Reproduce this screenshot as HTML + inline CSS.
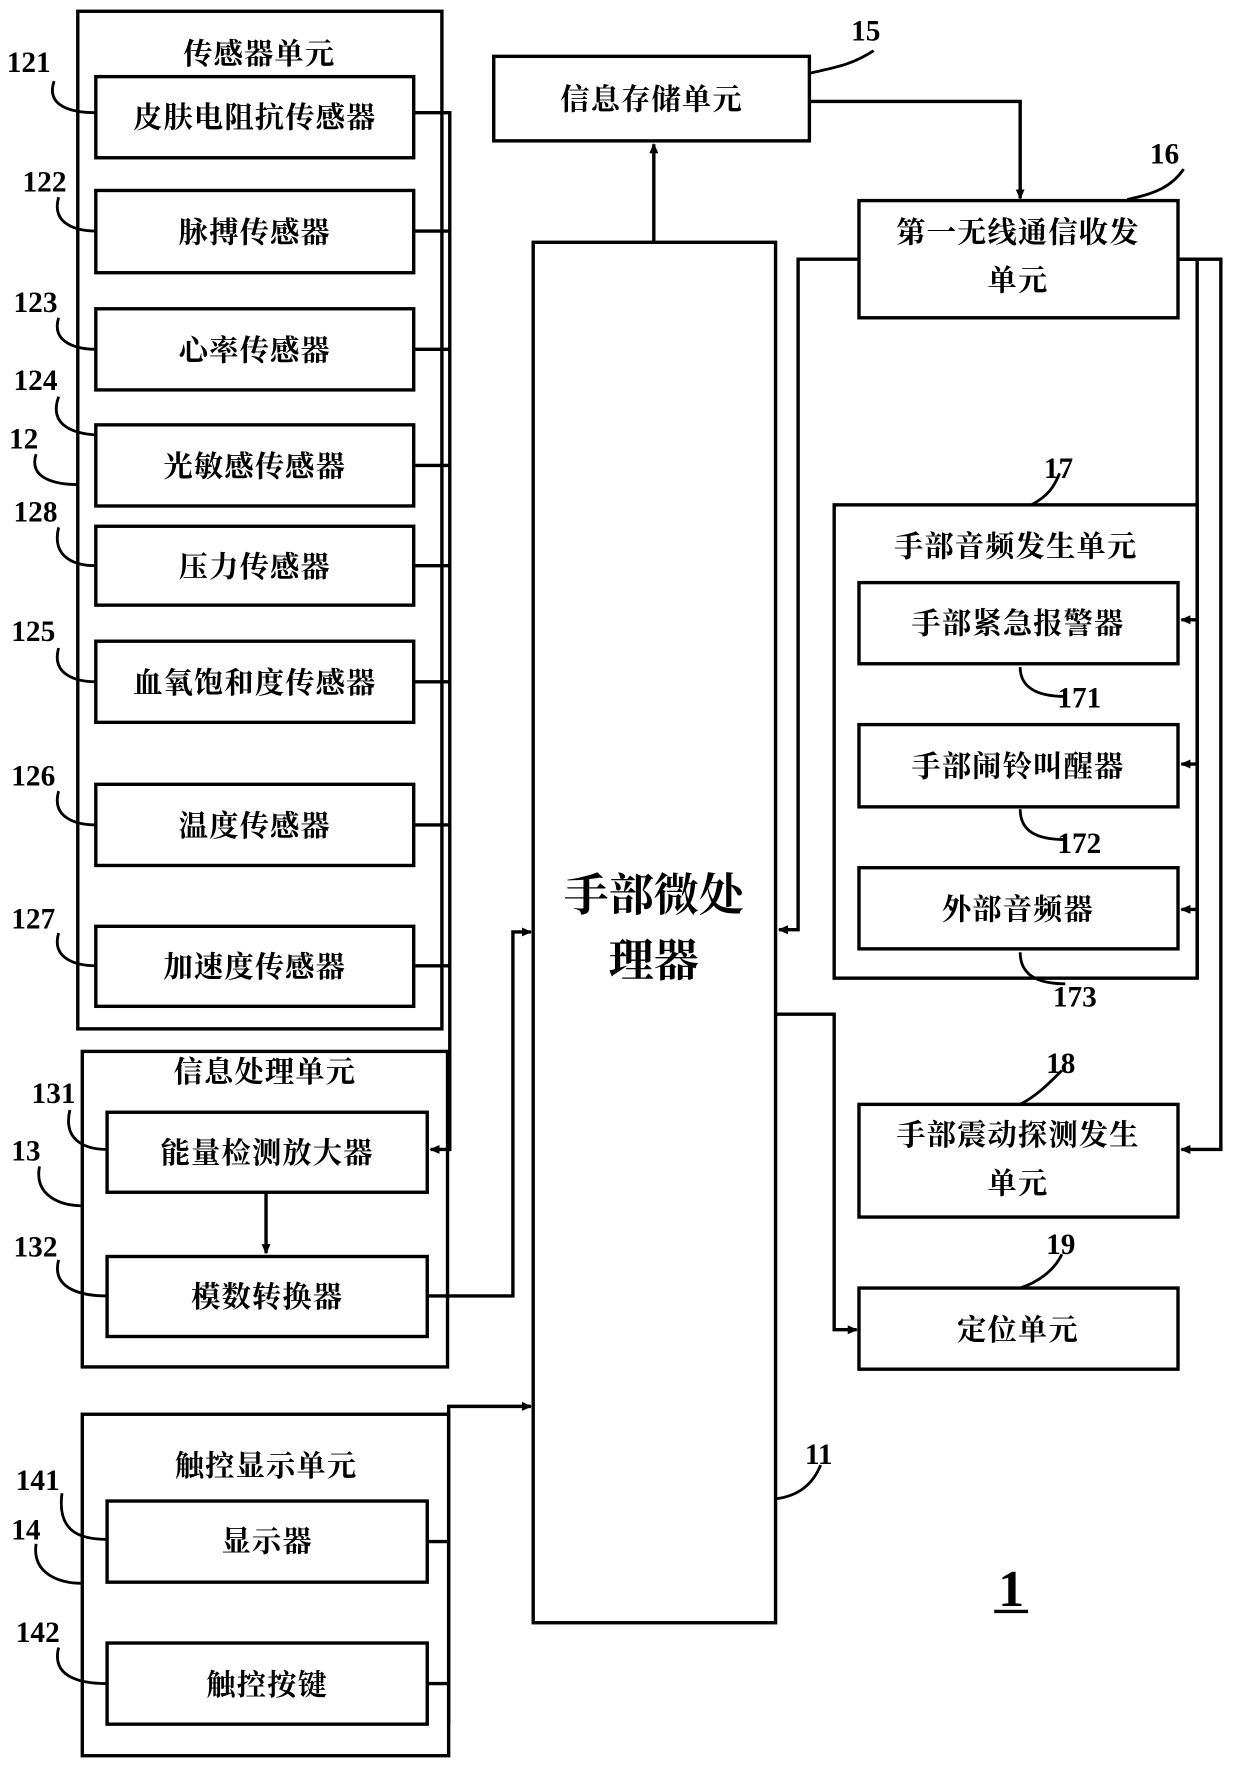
<!DOCTYPE html>
<html><head><meta charset="utf-8"><style>
html,body{margin:0;padding:0;background:#fff;}
svg{display:block;}
text{font-family:"Liberation Serif","Noto Serif CJK SC",serif;font-weight:700;fill:#000;}
</style></head><body>
<svg width="1240" height="1776" viewBox="0 0 1100 1576" preserveAspectRatio="none" xmlns="http://www.w3.org/2000/svg">
<defs><marker id="a" markerWidth="10" markerHeight="10" refX="8" refY="5" orient="auto" markerUnits="userSpaceOnUse"><path d="M0,1 L9,5 L0,9 z" fill="#000"/></marker></defs>
<g fill="none" stroke="#000" stroke-width="3">
<rect x="69" y="10" width="323" height="903"/>
<rect x="85" y="68" width="282" height="72"/>
<rect x="85" y="169" width="282" height="73"/>
<rect x="85" y="274" width="282" height="72"/>
<rect x="85" y="377" width="282" height="72"/>
<rect x="85" y="467" width="282" height="70"/>
<rect x="85" y="569" width="282" height="72"/>
<rect x="85" y="696" width="282" height="72"/>
<rect x="85" y="822" width="282" height="71"/>
<path d="M367,100 H399 V1020 H382" marker-end="url(#a)"/>
<path d="M367,205 H399 M367,310 H399 M367,413 H399 M367,502 H399 M367,605 H399 M367,732 H399 M367,857 H399"/>
<rect x="73" y="933" width="324" height="280"/>
<rect x="95" y="987" width="284" height="71"/>
<rect x="95" y="1115" width="284" height="71"/>
<path d="M236,1058 V1112" marker-end="url(#a)"/>
<path d="M379,1150 H455 V827 H471" marker-end="url(#a)"/>
<rect x="73" y="1255" width="325" height="303"/>
<rect x="95" y="1332" width="284" height="72"/>
<rect x="95" y="1458" width="284" height="72"/>
<path d="M379,1368 H398 M379,1494 H398 M398,1530 V1248 H471" marker-end="url(#a)"/>
<rect x="473" y="215" width="215" height="1225"/>
<path d="M580,215 V128" marker-end="url(#a)"/>
<rect x="438" y="50" width="280" height="75"/>
<path d="M718,90 H905 V176" marker-end="url(#a)"/>
<rect x="762" y="178" width="283" height="104"/>
<path d="M762,230 H708 V825 H691" marker-end="url(#a)"/>
<path d="M1045,230 H1083 V1020 H1048" marker-end="url(#a)"/>
<path d="M1045,230 H1062 V868"/>
<path d="M1062,550 H1048" marker-end="url(#a)"/>
<path d="M1062,678 H1048" marker-end="url(#a)"/>
<path d="M1062,807 H1048" marker-end="url(#a)"/>
<rect x="740" y="448" width="322" height="420"/>
<rect x="762" y="517" width="283" height="72"/>
<rect x="762" y="643" width="283" height="73"/>
<rect x="762" y="770" width="283" height="72"/>
<rect x="762" y="980" width="283" height="100"/>
<rect x="762" y="1143" width="283" height="72"/>
<path d="M688,900 H740 V1180 H760" marker-end="url(#a)"/>
<g stroke-width="2.5">
<path d="M48,72 C40,95 65,100 85,100"/>
<path d="M52,175 C45,200 70,205 85,205"/>
<path d="M52,282 C45,305 70,310 85,310"/>
<path d="M52,352 C42,380 70,385 85,386"/>
<path d="M32,403 C25,425 50,430 69,430"/>
<path d="M52,468 C45,497 70,502 85,502"/>
<path d="M52,575 C45,600 70,605 85,605"/>
<path d="M52,702 C45,727 70,732 85,732"/>
<path d="M52,828 C45,852 70,857 85,857"/>
<path d="M62,985 C55,1015 80,1020 95,1020"/>
<path d="M35,1035 C30,1062 55,1070 73,1070"/>
<path d="M52,1118 C45,1145 75,1150 95,1150"/>
<path d="M55,1325 C50,1362 75,1366 95,1366"/>
<path d="M32,1370 C28,1398 55,1405 73,1405"/>
<path d="M52,1462 C45,1490 75,1494 95,1494"/>
<path d="M718,65 C740,60 755,58 775,45"/>
<path d="M1000,177 C1025,172 1040,165 1050,150"/>
<path d="M915,448 C930,440 935,432 940,420"/>
<path d="M905,592 C905,610 920,618 945,618"/>
<path d="M905,718 C905,738 920,745 945,745"/>
<path d="M905,845 C905,865 920,873 945,873"/>
<path d="M905,980 C920,972 930,962 942,950"/>
<path d="M905,1143 C920,1138 935,1128 942,1113"/>
<path d="M688,1330 C705,1328 720,1320 728,1300"/>
</g>
<path d="M882,1430 H912" stroke-width="3"/>
</g>
<g font-size="26" text-anchor="middle" letter-spacing="1">
<text x="230" y="57">传感器单元</text>
<text x="226" y="113">皮肤电阻抗传感器</text>
<text x="226" y="215">脉搏传感器</text>
<text x="226" y="320">心率传感器</text>
<text x="226" y="423">光敏感传感器</text>
<text x="226" y="512">压力传感器</text>
<text x="226" y="615">血氧饱和度传感器</text>
<text x="226" y="742">温度传感器</text>
<text x="226" y="867">加速度传感器</text>
<text x="235" y="960">信息处理单元</text>
<text x="237" y="1032">能量检测放大器</text>
<text x="237" y="1160">模数转换器</text>
<text x="236" y="1310">触控显示单元</text>
<text x="237" y="1377">显示器</text>
<text x="237" y="1504">触控按键</text>
<text x="578" y="97">信息存储单元</text>
<text x="903" y="215">第一无线通信收发</text>
<text x="903" y="258">单元</text>
<text x="901" y="494">手部音频发生单元</text>
<text x="903" y="562">手部紧急报警器</text>
<text x="903" y="689">手部闹铃叫醒器</text>
<text x="903" y="816">外部音频器</text>
<text x="903" y="1016">手部震动探测发生</text>
<text x="903" y="1059">单元</text>
<text x="903" y="1189">定位单元</text>
</g>
<g font-size="40" text-anchor="middle">
<text x="580" y="808">手部微处</text>
<text x="580" y="866">理器</text>
</g>
<g font-size="26">
<text x="6" y="64">121</text>
<text x="20" y="170">122</text>
<text x="12" y="277">123</text>
<text x="12" y="346">124</text>
<text x="8" y="398">12</text>
<text x="12" y="463">128</text>
<text x="10" y="569">125</text>
<text x="10" y="697">126</text>
<text x="10" y="824">127</text>
<text x="28" y="979">131</text>
<text x="10" y="1030">13</text>
<text x="12" y="1115">132</text>
<text x="14" y="1322">141</text>
<text x="10" y="1366">14</text>
<text x="14" y="1457">142</text>
<text x="755" y="36">15</text>
<text x="1020" y="145">16</text>
<text x="926" y="424">17</text>
<text x="938" y="628">171</text>
<text x="938" y="757">172</text>
<text x="934" y="893">173</text>
<text x="928" y="952">18</text>
<text x="928" y="1113">19</text>
<text x="714" y="1299">11</text>
</g>
<text x="897" y="1425" font-size="46" text-anchor="middle">1</text>
</svg>
</body></html>
